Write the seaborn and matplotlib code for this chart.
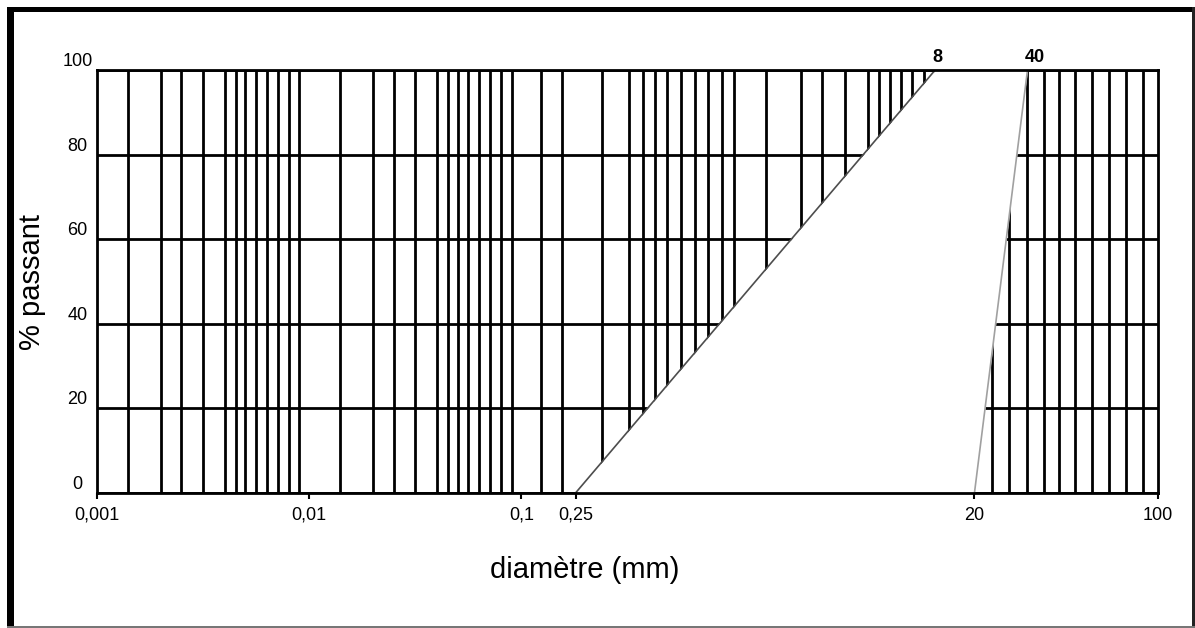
import numpy as np
import pandas as pd
import matplotlib
matplotlib.use("Agg")
import matplotlib.pyplot as plt
from matplotlib.patches import Rectangle
import seaborn as sns

# ---------------- data ----------------
# grading envelope: fine-side limit and coarse-side limit
limite_fine_diametre = [0.25, 8]       # mm
limite_fine_passant = [0, 100]         # %
limite_grosse_diametre = [20, 40]      # mm
limite_grosse_passant = [0, 100]       # %

x_ticks = [0.001, 0.01, 0.1, 0.25, 20, 100]
x_tick_labels = ["0,001", "0,01", "0,1", "0,25", "20", "100"]
top_marks = [8, 40]
top_mark_labels = ["8", "40"]
y_ticks = [0, 20, 40, 60, 80, 100]
y_tick_labels = ["0", "20", "40", "60", "80", "100"]
decades = [0.001, 0.01, 0.1, 1, 10]
sieve_multipliers = [1, 1.4, 2, 2.5, 3.15, 4, 4.5, 5, 5.6, 6.3, 7.1, 8, 9]

# the printed abscissa is not a strict log axis: calibration of
# diameter -> position (in decades)
calib_diam = [0.001, 0.01, 0.1, 0.25, 1, 8, 10, 20, 40, 100]
calib_pos = [-3, -2, -1, -0.745, 0, 0.95, 1, 1.135, 1.385, 2]

# ---------------- scale ----------------
_src = np.log10(np.array(calib_diam, float))
_dst = np.array(calib_pos, float)


def _interp_ext(v, xp, fp):
    v = np.asarray(v, float)
    out = np.interp(v, xp, fp)
    lo = v < xp[0]
    hi = v > xp[-1]
    out = np.where(lo, fp[0] + (v - xp[0]), out)
    out = np.where(hi, fp[-1] + (v - xp[-1]), out)
    return out


def fwd(x):
    x = np.asarray(x, float)
    with np.errstate(divide="ignore", invalid="ignore"):
        lx = np.log10(np.where(x > 0, x, 1e-300))
    return _interp_ext(lx, _src, _dst)


def inv(p):
    return 10.0 ** _interp_ext(p, _dst, _src)


# ---------------- style ----------------
sns.set_theme(style="white")
plt.rcParams["font.family"] = ["Liberation Sans", "DejaVu Sans"]
plt.rcParams["axes.edgecolor"] = "black"
plt.rcParams["axes.linewidth"] = 2
plt.rcParams["text.color"] = "black"
plt.rcParams["axes.labelcolor"] = "black"

fig = plt.figure(figsize=(11.95, 6.28), dpi=100)
W, H = 1195, 628
ax = fig.add_axes([97 / W, 1 - 493 / H, (1158 - 97) / W, (493 - 70) / H])
ax.set_xscale("function", functions=(fwd, inv))
ax.set_xlim(0.001, 100)
ax.set_ylim(0, 100)
ax.set_axisbelow(True)

# grid (sieve series)
grid_values = [d * m for d in decades for m in sieve_multipliers] + [100]
ax.set_xticks(grid_values, minor=True)
ax.set_xticks(x_ticks)
ax.set_xticklabels(x_tick_labels)
ax.set_yticks(y_ticks)
ax.set_yticklabels(y_tick_labels)
ax.xaxis.grid(True, which="minor", color="black", lw=2)
ax.xaxis.grid(False, which="major")
ax.yaxis.grid(True, which="major", color="black", lw=2)

ax.tick_params(axis="x", which="minor", length=0)
ax.tick_params(axis="x", which="major", length=4, width=1.5, color="black",
               pad=6, labelsize=13, labelcolor="black", bottom=True)
ax.tick_params(axis="y", which="both", length=0, pad=14, labelsize=13,
               labelcolor="black")
for lab in ax.get_yticklabels():
    lab.set_horizontalalignment("center")
    lab.set_verticalalignment("bottom")

# white envelope region between the two limits
ax.fill_betweenx(limite_fine_passant, limite_fine_diametre,
                 limite_grosse_diametre, color="white", lw=0, zorder=1)

df = pd.DataFrame({
    "diametre": limite_fine_diametre + limite_grosse_diametre,
    "passant": limite_fine_passant + limite_grosse_passant,
    "courbe": ["fine"] * len(limite_fine_diametre) + ["grosse"] * len(limite_grosse_diametre),
})
sns.lineplot(data=df, x="diametre", y="passant", hue="courbe",
             palette={"fine": "#4d4d4d", "grosse": "#a0a0a0"},
             estimator=None, sort=False, lw=1.2, legend=False, ax=ax, zorder=2)

for v, t in zip(top_marks, top_mark_labels):
    ax.annotate(t, xy=(v, 100), xytext=(-2, 3), textcoords="offset points",
                ha="left", va="bottom", fontsize=13, fontweight="bold",
                color="black", annotation_clip=False)

ax.set_xlabel("diamètre (mm)", fontsize=21, color="black")
ax.set_ylabel("% passant", fontsize=21, color="black")
ax.xaxis.set_label_coords(0.46, -0.149)
ax.yaxis.set_label_coords(-0.048, 0.5)

for s in ax.spines.values():
    s.set_visible(True)
    s.set_color("black")
    s.set_linewidth(2)

# outer frame of the original picture
fig.add_artist(Rectangle((7 / W, 0), 7 / W, (H - 7) / H, transform=fig.transFigure,
                         color="black", lw=0))
fig.add_artist(Rectangle((7 / W, 1 - 12 / H), (W - 7) / W, 5 / H, transform=fig.transFigure,
                         color="black", lw=0))
fig.add_artist(Rectangle((1 - 3 / W, 0), 3 / W, (H - 7) / H, transform=fig.transFigure,
                         color="#222222", lw=0))
fig.add_artist(Rectangle((7 / W, 0), (W - 7) / W, 2 / H, transform=fig.transFigure,
                         color="#777777", lw=0))

fig.savefig("out.png", dpi=100)
